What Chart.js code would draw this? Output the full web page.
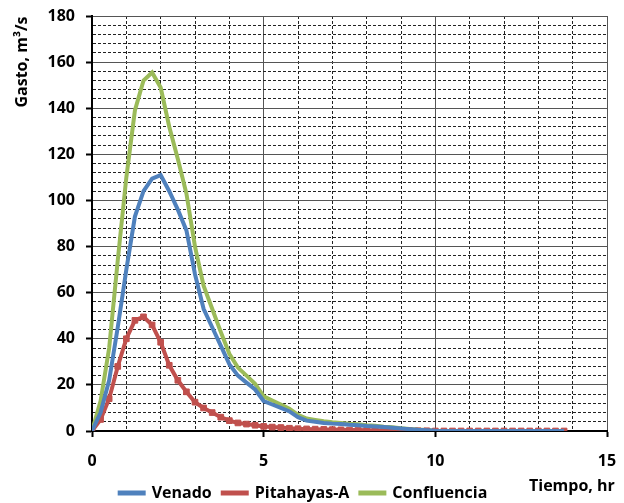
<!DOCTYPE html>
<html>
<head>
<meta charset="utf-8">
<script src="https://cdn.jsdelivr.net/npm/chart.js@4/dist/chart.umd.min.js"></script>
<style>
  html, body { margin: 0; padding: 0; background: #fff; }
  #wrap { width: 624px; height: 503px; }
</style>
</head>
<body>
<div id="wrap"><canvas id="myChart" width="624" height="503"></canvas></div>
<script>
// --- data (time step 0.25 hr) ---
const tiempo = [0, 0.25, 0.5, 0.75, 1, 1.25, 1.5, 1.75, 2, 2.25, 2.5, 2.75, 3, 3.25, 3.5, 3.75,
    4, 4.25, 4.5, 4.75, 5, 5.25, 5.5, 5.75, 6, 6.25, 6.5, 6.75, 7, 7.25, 7.5, 7.75,
    8, 8.25, 8.5, 8.75, 9, 9.25, 9.5, 9.75, 10, 10.25, 10.5, 10.75, 11, 11.25, 11.5, 11.75,
    12, 12.25, 12.5, 12.75, 13, 13.25, 13.5, 13.75];

const venado = [0, 8, 22, 45, 70, 93, 104, 109.5, 111, 104, 96, 87, 68, 53, 45, 37,
    29, 24, 21, 18, 13, 11.5, 10, 8.5, 6, 4.5, 4, 3.5, 3.2, 3, 2.7, 2.5,
    2.2, 2, 1.7, 1.4, 1.1, 0.8, 0.5, 0.3, 0.1, 0, 0, 0, 0, 0, 0, 0,
    0, 0, 0, 0, 0, 0, 0, 0];

const pitahayas = [0, 5, 14, 28, 40, 48, 49.5, 46, 38.5, 28.5, 22, 17, 12.5, 10, 8, 6,
    4.5, 3.5, 3, 2.5, 2, 1.7, 1.5, 1.2, 1, 0.9, 0.8, 0.7, 0.6, 0.5, 0.4, 0.4,
    0.3, 0.3, 0.2, 0.2, 0.1, 0.1, 0.1, 0.1, 0, 0, 0, 0, 0, 0, 0, 0,
    0, 0, 0, 0, 0, 0, 0, 0];

const confluencia = [0, 13, 36, 74, 110, 139, 152, 155.5, 149, 132, 118, 103, 80, 63, 53, 43,
    33.5, 27.5, 24, 20.5, 15, 13.2, 11.5, 9.7, 7, 5.4, 4.8, 4.2, 3.8, 3.5, 3.1, 2.9,
    2.5, 2.3, 1.9, 1.6, 1.2, 0.9, 0.6, 0.4, 0.1, 0, 0, 0, 0, 0, 0, 0,
    0, 0, 0, 0, 0, 0, 0, 0];

const xTickLabels = [0, 5, 10, 15];
const yTickLabels = [0, 20, 40, 60, 80, 100, 120, 140, 160, 180];

const toXY = (arr) => arr.map((v, i) => ({ x: tiempo[i], y: v }));

const FONT = "'Open Sans', 'Noto Sans', sans-serif";

// axis titles placed like the original (top-left and bottom-right)
const axisTitles = {
    id: 'axisTitles',
    afterDraw(chart) {
        const ctx = chart.ctx;
        ctx.save();
        ctx.fillStyle = '#000';
        ctx.font = 'bold 16px ' + FONT;
        ctx.textBaseline = 'middle';
        ctx.textAlign = 'left';
        ctx.fillText('Tiempo, hr', 529, 486);
        ctx.translate(22, 62);
        ctx.rotate(-Math.PI / 2);
        ctx.textAlign = 'center';
        ctx.fillText('Gasto, m³/s', 0, 0);
        ctx.restore();
    }
};

const isMajorX = (v) => xTickLabels.includes(v);
const isMajorY = (v) => yTickLabels.includes(v);

const ctx = document.getElementById('myChart').getContext('2d');
const myChart = new Chart(ctx, {
    type: 'line',
    data: {
        datasets: [{
            label: 'Venado',
            data: toXY(venado),
            borderColor: '#4F81BD',
            backgroundColor: '#4F81BD',
            borderWidth: 4,
            pointRadius: 0,
            tension: 0
        }, {
            label: 'Pitahayas-A',
            data: toXY(pitahayas),
            borderColor: '#C0504D',
            backgroundColor: '#C0504D',
            borderWidth: 4,
            pointStyle: 'rect',
            pointRadius: 4,
            pointBorderWidth: 1,
            tension: 0
        }, {
            label: 'Confluencia',
            data: toXY(confluencia),
            borderColor: '#9BBB59',
            backgroundColor: '#9BBB59',
            borderWidth: 4,
            pointRadius: 0,
            tension: 0
        }]
    },
    options: {
        responsive: false,
        animation: false,
        layout: { padding: { left: 0, right: 17, top: 16, bottom: -8 } },
        plugins: {
            legend: {
                position: 'bottom',
                labels: {
                    color: '#000',
                    font: { family: FONT, size: 16, weight: 'bold' },
                    boxWidth: 24,
                    boxHeight: 1,
                    padding: 11
                }
            },
            tooltip: { enabled: false }
        },
        scales: {
            x: {
                type: 'linear',
                min: 0,
                max: 15,
                afterFit: (scale) => {
                    scale.height = 43;
                    scale.paddingLeft = 0;
                    scale.paddingRight = 0;
                },
                ticks: {
                    stepSize: 1,
                    autoSkip: false,
                    maxRotation: 0,
                    padding: 15,
                    color: '#000',
                    font: { family: FONT, size: 16, weight: 'bold' },
                    callback: (v) => isMajorX(v) ? v : ''
                },
                grid: {
                    color: (c) => c.tick && isMajorX(c.tick.value) ? '#555' : '#222',
                    lineWidth: 1,
                    tickLength: 6,
                    tickWidth: 2,
                    tickColor: (c) => c.tick && isMajorX(c.tick.value) ? '#000' : 'rgba(0,0,0,0)'
                },
                border: {
                    color: '#000',
                    width: 2,
                    dash: (c) => c.tick && !isMajorX(c.tick.value) ? [3, 2] : []
                }
            },
            y: {
                min: 0,
                max: 180,
                afterFit: (scale) => {
                    scale.width = 92;
                    scale.paddingTop = 0;
                    scale.paddingBottom = 0;
                },
                ticks: {
                    stepSize: 4,
                    autoSkip: false,
                    padding: 11,
                    color: '#000',
                    font: { family: FONT, size: 16, weight: 'bold' },
                    callback: (v) => isMajorY(v) ? v : ''
                },
                grid: {
                    color: (c) => c.tick && isMajorY(c.tick.value) ? '#555' : '#222',
                    lineWidth: 1,
                    tickLength: 6,
                    tickWidth: 2,
                    tickColor: (c) => c.tick && isMajorY(c.tick.value) ? '#000' : 'rgba(0,0,0,0)'
                },
                border: {
                    color: '#000',
                    width: 2,
                    dash: (c) => c.tick && !isMajorY(c.tick.value) ? [3, 2] : []
                }
            }
        }
    },
    plugins: [axisTitles]
});
</script>
</body>
</html>
